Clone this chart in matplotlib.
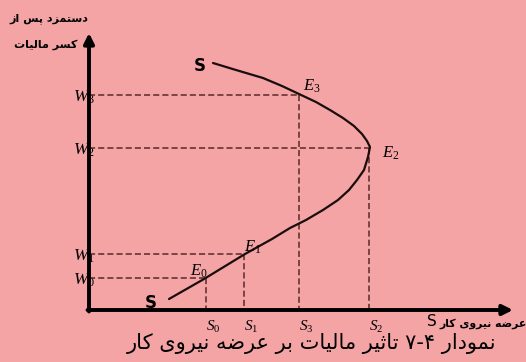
import matplotlib
matplotlib.use("Agg")
import matplotlib.pyplot as plt

# supply curve (labour quantity, after-tax wage)
curve_q = [124, 147, 174, 193, 210, 227, 241, 254, 265, 273, 278, 281,
           279, 275, 268, 260, 249, 234, 217, 201, 183, 156, 115, 80]
curve_w = [247, 240, 232, 224, 216, 208, 200, 192, 184, 176, 169, 163,
           153, 140, 130, 120, 110, 100, 90, 82, 71, 56, 31, 11]

# equilibrium points E0..E3
eq_names = ["E_0", "E_1", "E_2", "E_3"]
eq_q = [117, 155, 280, 210]
eq_w = [32, 56, 162, 215]
wage_names = ["W_0", "W_1", "W_2", "W_3"]
qty_names = ["S_0", "S_1", "S_2", "S_3"]

bg = "#F4A4A4"
dash_col = "#5a2a2a"

plt.rcParams["mathtext.fontset"] = "custom"
plt.rcParams["mathtext.it"] = "Liberation Serif:italic"
plt.rcParams["mathtext.rm"] = "Liberation Serif"

# crude persian shaping -> presentation forms in visual order
FORMS = {
    "ا": ("\uFE8D", "\uFE8E", None, None),
    "ب": ("\uFE8F", "\uFE90", "\uFE91", "\uFE92"),
    "پ": ("\uFB56", "\uFB57", "\uFB58", "\uFB59"),
    "ت": ("\uFE95", "\uFE96", "\uFE97", "\uFE98"),
    "ث": ("\uFE99", "\uFE9A", "\uFE9B", "\uFE9C"),
    "د": ("\uFEA9", "\uFEAA", None, None),
    "ر": ("\uFEAD", "\uFEAE", None, None),
    "ز": ("\uFEAF", "\uFEB0", None, None),
    "س": ("\uFEB1", "\uFEB2", "\uFEB3", "\uFEB4"),
    "ض": ("\uFEBD", "\uFEBE", "\uFEBF", "\uFEC0"),
    "ع": ("\uFEC9", "\uFECA", "\uFECB", "\uFECC"),
    "ک": ("\uFB8E", "\uFB8F", "\uFB90", "\uFB91"),
    "ل": ("\uFEDD", "\uFEDE", "\uFEDF", "\uFEE0"),
    "م": ("\uFEE1", "\uFEE2", "\uFEE3", "\uFEE4"),
    "ن": ("\uFEE5", "\uFEE6", "\uFEE7", "\uFEE8"),
    "و": ("\uFEED", "\uFEEE", None, None),
    "ه": ("\uFEE9", "\uFEEA", "\uFEEB", "\uFEEC"),
    "ی": ("\uFBFC", "\uFBFD", "\uFBFE", "\uFBFF"),
}


def shape(word):
    if not any(c in FORMS for c in word):
        return word
    out = []
    for i, c in enumerate(word):
        f = FORMS.get(c)
        if f is None:
            out.append(c)
            continue
        prev = word[i - 1] if i > 0 else None
        nxt = word[i + 1] if i + 1 < len(word) else None
        jp = prev in FORMS and FORMS[prev][2] is not None
        jn = nxt in FORMS and f[2] is not None
        if jp and jn:
            out.append(f[3])
        elif jp:
            out.append(f[1])
        elif jn:
            out.append(f[2])
        else:
            out.append(f[0])
    return "".join(reversed(out))


def rtl(text):
    return " ".join(shape(w) for w in reversed(text.split(" ")))


fig = plt.figure(figsize=(5.26, 3.62), dpi=100, facecolor=bg)
ax = fig.add_axes([0, 0, 1, 1])
ax.set_facecolor(bg)
ax.set_xlim(-89, 437)
ax.set_ylim(-52, 310)
ax.axis("off")

# axes with arrows
ax.annotate("", xy=(0, 277), xytext=(0, -1.5),
            arrowprops=dict(arrowstyle="-|>", lw=2.8, color="black",
                            mutation_scale=15, shrinkA=0, shrinkB=0), zorder=5)
ax.annotate("", xy=(424, 0), xytext=(-1.5, 0),
            arrowprops=dict(arrowstyle="-|>", lw=2.8, color="black",
                            mutation_scale=15, shrinkA=0, shrinkB=0), zorder=5)

# guide lines
for q, w in zip(eq_q, eq_w):
    ax.plot([0, q], [w, w], ls=(0, (4, 2)), color=dash_col, lw=1.1, zorder=2)
    ax.plot([q, q], [w, 0], ls=(0, (4, 2)), color=dash_col, lw=1.1, zorder=2)

# supply curve
ax.plot(curve_q, curve_w, color="#1a0d0d", lw=1.6, zorder=3,
        solid_capstyle="round", solid_joinstyle="round")

ax.text(111, 244, "S", fontsize=12, fontweight="bold", ha="center", va="center")
ax.text(62, 7, "S", fontsize=12, fontweight="bold", ha="center", va="center")

eq_off = [(-7, 7), (9, 7), (22, -5), (13, 9)]
for name, q, w, (dx, dy) in zip(eq_names, eq_q, eq_w, eq_off):
    ax.text(q + dx, w + dy, "$%s$" % name, fontsize=12, ha="center", va="center")

for name, w in zip(wage_names, eq_w):
    ax.text(-16, w - 2, "$%s$" % name, fontsize=12.5, ha="left", va="center", zorder=1)

for name, q in zip(qty_names, eq_q):
    ax.text(q + 7, -17, "$%s$" % name, fontsize=11, ha="center", va="center")

# axis titles
ax.text(343, -11, "S", fontsize=11, ha="center", va="center")
ax.text(350, -14, rtl("عرضه نیروی کار"), fontsize=7.8, fontweight="bold",
        ha="left", va="center")
ax.text(-40, 291, rtl("دستمزد پس از"), fontsize=8, fontweight="bold",
        ha="center", va="center")
ax.text(-43, 265, rtl("کسر مالیات"), fontsize=8, fontweight="bold",
        ha="center", va="center")

# caption
ax.text(223, -34, rtl("نمودار ۷-۴ تاثیر مالیات بر عرضه نیروی کار"),
        fontsize=15, ha="center", va="center")

fig.savefig("out.png", dpi=100, facecolor=bg)
